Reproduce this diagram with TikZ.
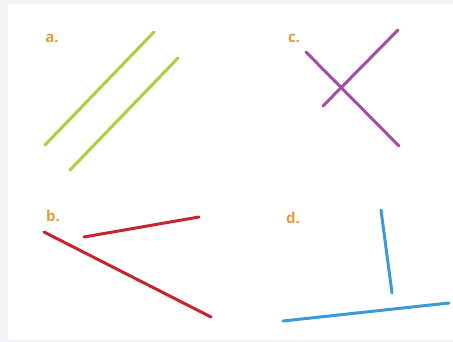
\documentclass[tikz,border=0pt]{standalone}
\usepackage{fontspec}
\setmainfont{Open Sans}
\definecolor{bgray}{HTML}{F3F5F8}
\definecolor{lgreen}{HTML}{A9D13F}
\definecolor{lpurple}{HTML}{A24DA6}
\definecolor{lred}{HTML}{C3262E}
\definecolor{lblue}{HTML}{3B99D6}
\definecolor{lorange}{HTML}{E89A3C}
\begin{document}
\begin{tikzpicture}[x=1pt,y=-1pt,
  seg/.style={line width=3pt,line cap=round},
  lbl/.style={text=lorange,font=\bfseries\fontsize{15}{15}\selectfont,inner sep=0pt}]
\fill[bgray] (0,0) rectangle (453,342);
\fill[white] (8,4) rectangle (453,340);
\useasboundingbox (0,0) rectangle (453,342);
% a
\node[lbl] (la) at (52,38) {a.};
\coordinate (a1s) at (45,145); \coordinate (a1e) at (154,32);
\coordinate (a2s) at (70,170); \coordinate (a2e) at (178,58);
\draw[seg,lgreen] (a1s) -- (a1e);
\draw[seg,lgreen] (a2s) -- (a2e);
% c
\node[lbl] (lc) at (294,38) {c.};
\coordinate (c1s) at (306,52); \coordinate (c1e) at (399,146);
\coordinate (c2s) at (323,106); \coordinate (c2e) at (398,30);
\draw[seg,lpurple] (c1s) -- (c1e);
\draw[seg,lpurple] (c2s) -- (c2e);
% b
\node[lbl] (lb) at (53,216) {b.};
\coordinate (b1s) at (44,232); \coordinate (b1e) at (211,317);
\coordinate (b2s) at (84,237); \coordinate (b2e) at (199,217);
\draw[seg,lred] (b1s) -- (b1e);
\draw[seg,lred] (b2s) -- (b2e);
% d
\node[lbl] (ld) at (293,218) {d.};
\coordinate (d1s) at (381,210); \coordinate (d1e) at (392,293);
\coordinate (d2s) at (283,321); \coordinate (d2e) at (449,303);
\draw[seg,lblue] (d1s) -- (d1e);
\draw[seg,lblue] (d2s) -- (d2e);
\end{tikzpicture}
\end{document}
